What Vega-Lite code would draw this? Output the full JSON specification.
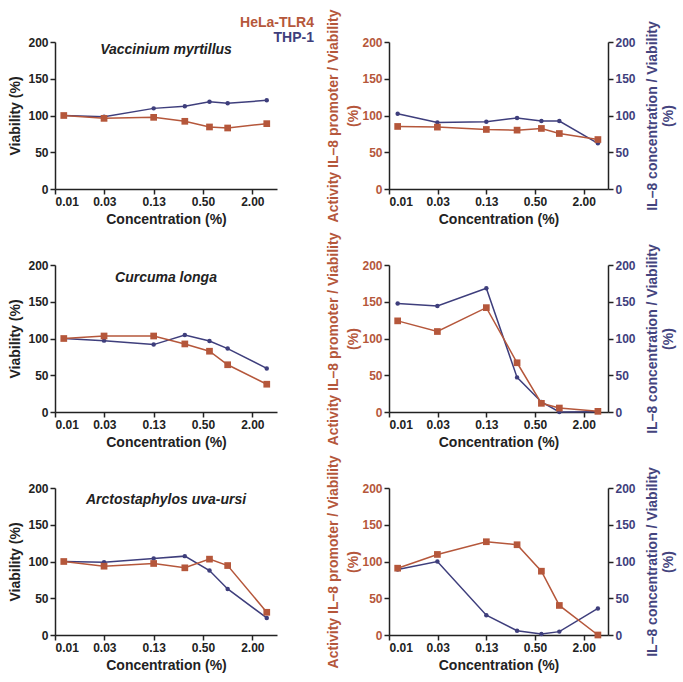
{
  "$schema": "https://vega.github.io/schema/vega-lite/v6.json",
  "padding": {"left": 8, "top": 9, "right": 2, "bottom": 2},
  "background": "white",
  "config": {
    "font": "Liberation Sans",
    "view": {"stroke": null},
    "axis": {
      "labelFont": "Liberation Sans", "labelFontWeight": "bold", "labelFontSize": 12, "labelColor": "#222222",
      "titleFont": "Liberation Sans", "titleFontWeight": "bold", "titleFontSize": 14, "titleColor": "#222222",
      "domainColor": "#222222", "domainWidth": 1.5, "tickColor": "#222222", "tickWidth": 1.5, "tickSize": 5,
      "grid": false, "labelPadding": 2, "titlePadding": 5
    },
    "title": {"font": "Liberation Sans", "fontSize": 14, "fontWeight": "bold", "fontStyle": "italic", "color": "#222222", "anchor": "middle", "frame": "group"}
  },
  "data": {"values": [
    {"species": "Vaccinium myrtillus", "panel": "viability", "series": "THP-1", "conc": 0.01, "value": 100},
    {"species": "Vaccinium myrtillus", "panel": "viability", "series": "THP-1", "conc": 0.031, "value": 98.4},
    {"species": "Vaccinium myrtillus", "panel": "viability", "series": "THP-1", "conc": 0.125, "value": 109.7},
    {"species": "Vaccinium myrtillus", "panel": "viability", "series": "THP-1", "conc": 0.3, "value": 112.5},
    {"species": "Vaccinium myrtillus", "panel": "viability", "series": "THP-1", "conc": 0.6, "value": 118.8},
    {"species": "Vaccinium myrtillus", "panel": "viability", "series": "THP-1", "conc": 1, "value": 116.6},
    {"species": "Vaccinium myrtillus", "panel": "viability", "series": "THP-1", "conc": 3, "value": 120.6},
    {"species": "Vaccinium myrtillus", "panel": "viability", "series": "HeLa-TLR4", "conc": 0.01, "value": 100},
    {"species": "Vaccinium myrtillus", "panel": "viability", "series": "HeLa-TLR4", "conc": 0.031, "value": 96.1},
    {"species": "Vaccinium myrtillus", "panel": "viability", "series": "HeLa-TLR4", "conc": 0.125, "value": 97.5},
    {"species": "Vaccinium myrtillus", "panel": "viability", "series": "HeLa-TLR4", "conc": 0.3, "value": 92.1},
    {"species": "Vaccinium myrtillus", "panel": "viability", "series": "HeLa-TLR4", "conc": 0.6, "value": 84.4},
    {"species": "Vaccinium myrtillus", "panel": "viability", "series": "HeLa-TLR4", "conc": 1, "value": 83},
    {"species": "Vaccinium myrtillus", "panel": "viability", "series": "HeLa-TLR4", "conc": 3, "value": 88.9},
    {"species": "Vaccinium myrtillus", "panel": "il8", "series": "THP-1", "conc": 0.01, "value": 102.5},
    {"species": "Vaccinium myrtillus", "panel": "il8", "series": "THP-1", "conc": 0.031, "value": 90.6},
    {"species": "Vaccinium myrtillus", "panel": "il8", "series": "THP-1", "conc": 0.125, "value": 91.5},
    {"species": "Vaccinium myrtillus", "panel": "il8", "series": "THP-1", "conc": 0.3, "value": 96.6},
    {"species": "Vaccinium myrtillus", "panel": "il8", "series": "THP-1", "conc": 0.6, "value": 92.4},
    {"species": "Vaccinium myrtillus", "panel": "il8", "series": "THP-1", "conc": 1, "value": 92.4},
    {"species": "Vaccinium myrtillus", "panel": "il8", "series": "THP-1", "conc": 3, "value": 62.2},
    {"species": "Vaccinium myrtillus", "panel": "il8", "series": "HeLa-TLR4", "conc": 0.01, "value": 85.1},
    {"species": "Vaccinium myrtillus", "panel": "il8", "series": "HeLa-TLR4", "conc": 0.031, "value": 84.2},
    {"species": "Vaccinium myrtillus", "panel": "il8", "series": "HeLa-TLR4", "conc": 0.125, "value": 81},
    {"species": "Vaccinium myrtillus", "panel": "il8", "series": "HeLa-TLR4", "conc": 0.3, "value": 80.1},
    {"species": "Vaccinium myrtillus", "panel": "il8", "series": "HeLa-TLR4", "conc": 0.6, "value": 82.4},
    {"species": "Vaccinium myrtillus", "panel": "il8", "series": "HeLa-TLR4", "conc": 1, "value": 75.5},
    {"species": "Vaccinium myrtillus", "panel": "il8", "series": "HeLa-TLR4", "conc": 3, "value": 67.3},
    {"species": "Curcuma longa", "panel": "viability", "series": "THP-1", "conc": 0.01, "value": 100},
    {"species": "Curcuma longa", "panel": "viability", "series": "THP-1", "conc": 0.031, "value": 97.1},
    {"species": "Curcuma longa", "panel": "viability", "series": "THP-1", "conc": 0.125, "value": 91.7},
    {"species": "Curcuma longa", "panel": "viability", "series": "THP-1", "conc": 0.3, "value": 104.7},
    {"species": "Curcuma longa", "panel": "viability", "series": "THP-1", "conc": 0.6, "value": 96.6},
    {"species": "Curcuma longa", "panel": "viability", "series": "THP-1", "conc": 1, "value": 86.3},
    {"species": "Curcuma longa", "panel": "viability", "series": "THP-1", "conc": 3, "value": 59.3},
    {"species": "Curcuma longa", "panel": "viability", "series": "HeLa-TLR4", "conc": 0.01, "value": 100},
    {"species": "Curcuma longa", "panel": "viability", "series": "HeLa-TLR4", "conc": 0.031, "value": 103.4},
    {"species": "Curcuma longa", "panel": "viability", "series": "HeLa-TLR4", "conc": 0.125, "value": 103.4},
    {"species": "Curcuma longa", "panel": "viability", "series": "HeLa-TLR4", "conc": 0.3, "value": 92.6},
    {"species": "Curcuma longa", "panel": "viability", "series": "HeLa-TLR4", "conc": 0.6, "value": 82.7},
    {"species": "Curcuma longa", "panel": "viability", "series": "HeLa-TLR4", "conc": 1, "value": 64.3},
    {"species": "Curcuma longa", "panel": "viability", "series": "HeLa-TLR4", "conc": 3, "value": 37.8},
    {"species": "Curcuma longa", "panel": "il8", "series": "THP-1", "conc": 0.01, "value": 147.5},
    {"species": "Curcuma longa", "panel": "il8", "series": "THP-1", "conc": 0.031, "value": 144.3},
    {"species": "Curcuma longa", "panel": "il8", "series": "THP-1", "conc": 0.125, "value": 168.3},
    {"species": "Curcuma longa", "panel": "il8", "series": "THP-1", "conc": 0.3, "value": 47.1},
    {"species": "Curcuma longa", "panel": "il8", "series": "THP-1", "conc": 0.6, "value": 13.6},
    {"species": "Curcuma longa", "panel": "il8", "series": "THP-1", "conc": 1, "value": 0},
    {"species": "Curcuma longa", "panel": "il8", "series": "THP-1", "conc": 3, "value": 0.5},
    {"species": "Curcuma longa", "panel": "il8", "series": "HeLa-TLR4", "conc": 0.01, "value": 124},
    {"species": "Curcuma longa", "panel": "il8", "series": "HeLa-TLR4", "conc": 0.031, "value": 109.5},
    {"species": "Curcuma longa", "panel": "il8", "series": "HeLa-TLR4", "conc": 0.125, "value": 142},
    {"species": "Curcuma longa", "panel": "il8", "series": "HeLa-TLR4", "conc": 0.3, "value": 67},
    {"species": "Curcuma longa", "panel": "il8", "series": "HeLa-TLR4", "conc": 0.6, "value": 11.8},
    {"species": "Curcuma longa", "panel": "il8", "series": "HeLa-TLR4", "conc": 1, "value": 5.4},
    {"species": "Curcuma longa", "panel": "il8", "series": "HeLa-TLR4", "conc": 3, "value": 0.9},
    {"species": "Arctostaphylos uva-ursi", "panel": "viability", "series": "THP-1", "conc": 0.01, "value": 100},
    {"species": "Arctostaphylos uva-ursi", "panel": "viability", "series": "THP-1", "conc": 0.031, "value": 99},
    {"species": "Arctostaphylos uva-ursi", "panel": "viability", "series": "THP-1", "conc": 0.125, "value": 104},
    {"species": "Arctostaphylos uva-ursi", "panel": "viability", "series": "THP-1", "conc": 0.3, "value": 107.3},
    {"species": "Arctostaphylos uva-ursi", "panel": "viability", "series": "THP-1", "conc": 0.6, "value": 87.7},
    {"species": "Arctostaphylos uva-ursi", "panel": "viability", "series": "THP-1", "conc": 1, "value": 62.7},
    {"species": "Arctostaphylos uva-ursi", "panel": "viability", "series": "THP-1", "conc": 3, "value": 23.2},
    {"species": "Arctostaphylos uva-ursi", "panel": "viability", "series": "HeLa-TLR4", "conc": 0.01, "value": 100},
    {"species": "Arctostaphylos uva-ursi", "panel": "viability", "series": "HeLa-TLR4", "conc": 0.031, "value": 93.6},
    {"species": "Arctostaphylos uva-ursi", "panel": "viability", "series": "HeLa-TLR4", "conc": 0.125, "value": 97.3},
    {"species": "Arctostaphylos uva-ursi", "panel": "viability", "series": "HeLa-TLR4", "conc": 0.3, "value": 91.4},
    {"species": "Arctostaphylos uva-ursi", "panel": "viability", "series": "HeLa-TLR4", "conc": 0.6, "value": 103.2},
    {"species": "Arctostaphylos uva-ursi", "panel": "viability", "series": "HeLa-TLR4", "conc": 1, "value": 94.5},
    {"species": "Arctostaphylos uva-ursi", "panel": "viability", "series": "HeLa-TLR4", "conc": 3, "value": 30.9},
    {"species": "Arctostaphylos uva-ursi", "panel": "il8", "series": "THP-1", "conc": 0.01, "value": 89},
    {"species": "Arctostaphylos uva-ursi", "panel": "il8", "series": "THP-1", "conc": 0.031, "value": 100},
    {"species": "Arctostaphylos uva-ursi", "panel": "il8", "series": "THP-1", "conc": 0.125, "value": 26.9},
    {"species": "Arctostaphylos uva-ursi", "panel": "il8", "series": "THP-1", "conc": 0.3, "value": 5.9},
    {"species": "Arctostaphylos uva-ursi", "panel": "il8", "series": "THP-1", "conc": 0.6, "value": 1.4},
    {"species": "Arctostaphylos uva-ursi", "panel": "il8", "series": "THP-1", "conc": 1, "value": 4.6},
    {"species": "Arctostaphylos uva-ursi", "panel": "il8", "series": "THP-1", "conc": 3, "value": 36.1},
    {"species": "Arctostaphylos uva-ursi", "panel": "il8", "series": "HeLa-TLR4", "conc": 0.01, "value": 90.9},
    {"species": "Arctostaphylos uva-ursi", "panel": "il8", "series": "HeLa-TLR4", "conc": 0.031, "value": 109.6},
    {"species": "Arctostaphylos uva-ursi", "panel": "il8", "series": "HeLa-TLR4", "conc": 0.125, "value": 126.9},
    {"species": "Arctostaphylos uva-ursi", "panel": "il8", "series": "HeLa-TLR4", "conc": 0.3, "value": 122.8},
    {"species": "Arctostaphylos uva-ursi", "panel": "il8", "series": "HeLa-TLR4", "conc": 0.6, "value": 86.8},
    {"species": "Arctostaphylos uva-ursi", "panel": "il8", "series": "HeLa-TLR4", "conc": 1, "value": 40.2},
    {"species": "Arctostaphylos uva-ursi", "panel": "il8", "series": "HeLa-TLR4", "conc": 3, "value": 0}
  ]},
  "columns": 2,
  "spacing": {"row": 76, "column": 112},
  "bounds": "flush",
  "resolve": {"scale": {"color": "independent"}, "legend": {"color": "independent"}},
  "concat": [
    {
      "width": 222, "height": 147,
      "title": {"text": "Vaccinium myrtillus", "dy": 45, "frame": "group"},
      "transform": [{"filter": "datum.species === 'Vaccinium myrtillus' && datum.panel === 'viability'"}],
      "encoding": {
        "x": {"field": "conc", "type": "quantitative", "scale": {"type": "log", "base": 2, "domain": [0.0078125, 4], "nice": false}, "axis": {"values": [0.0078125, 0.03125, 0.125, 0.5, 2], "format": ".2f", "title": "Concentration (%)"}},
        "y": {"field": "value", "type": "quantitative", "scale": {"domain": [0, 200], "nice": false}, "axis": {"values": [0, 50, 100, 150, 200], "title": "Viability (%)"}},
        "color": {"field": "series", "type": "nominal", "scale": {"domain": ["HeLa-TLR4", "THP-1"], "range": ["#b5573b", "#3e3e7c"]},
          "legend": {"orient": "none", "legendX": 245, "legendY": -26, "direction": "vertical", "title": null, "symbolOpacity": 0, "symbolSize": 0, "symbolStrokeWidth": 0, "labelOffset": 0, "labelFont": "Liberation Sans", "labelFontWeight": "bold", "labelFontSize": 14, "labelAlign": "right", "rowPadding": 1,
            "encode": {"labels": {"update": {"fill": {"signal": "datum.value === 'THP-1' ? '#3e3e7c' : '#b5573b'"}}}}}}
      },
      "layer": [
        {"transform": [{"filter": "datum.series === 'THP-1'"}], "mark": {"type": "line", "strokeWidth": 1.5, "point": {"filled": true, "size": 20, "shape": "circle"}}},
        {"transform": [{"filter": "datum.series === 'HeLa-TLR4'"}], "mark": {"type": "line", "strokeWidth": 1.5, "point": {"filled": true, "size": 45, "shape": "square"}}}
      ]
    },
    {
      "width": 219, "height": 147,
      "transform": [{"filter": "datum.species === 'Vaccinium myrtillus' && datum.panel === 'il8'"}],
      "encoding": {
        "x": {"field": "conc", "type": "quantitative", "scale": {"type": "log", "base": 2, "domain": [0.0078125, 4], "nice": false}, "axis": {"values": [0.0078125, 0.03125, 0.125, 0.5, 2], "format": ".2f", "title": "Concentration (%)"}}
      },
      "layer": [
        {"transform": [{"filter": "datum.series === 'THP-1'"}], "mark": {"type": "line", "color": "#3e3e7c", "strokeWidth": 1.5, "point": {"filled": true, "size": 20, "shape": "circle", "color": "#3e3e7c"}},
          "encoding": {"y": {"field": "value", "type": "quantitative", "scale": {"domain": [0, 200], "nice": false}, "axis": {"orient": "right", "values": [0, 50, 100, 150, 200], "title": ["IL–8 concentration / Viability", "(%)"], "titleColor": "#44447e", "labelColor": "#3e3e7c", "titleAngle": 270, "titleBaseline": "top", "titleLineHeight": 16, "titlePadding": -6}}}},
        {"transform": [{"filter": "datum.series === 'HeLa-TLR4'"}], "mark": {"type": "line", "color": "#b5573b", "strokeWidth": 1.5, "point": {"filled": true, "size": 45, "shape": "square", "color": "#b5573b"}},
          "encoding": {"y": {"field": "value", "type": "quantitative", "scale": {"domain": [0, 200], "nice": false}, "axis": {"orient": "left", "values": [0, 50, 100, 150, 200], "title": ["Activity IL–8 promoter / Viability", "(%)"], "titleColor": "#b5573b", "labelColor": "#b5573b", "titleLineHeight": 20, "titlePadding": 1}}}}
      ],
      "resolve": {"scale": {"y": "independent"}}
    },
    {
      "width": 222, "height": 147,
      "title": {"text": "Curcuma longa", "dy": 30, "frame": "group"},
      "transform": [{"filter": "datum.species === 'Curcuma longa' && datum.panel === 'viability'"}],
      "encoding": {
        "x": {"field": "conc", "type": "quantitative", "scale": {"type": "log", "base": 2, "domain": [0.0078125, 4], "nice": false}, "axis": {"values": [0.0078125, 0.03125, 0.125, 0.5, 2], "format": ".2f", "title": "Concentration (%)"}},
        "y": {"field": "value", "type": "quantitative", "scale": {"domain": [0, 200], "nice": false}, "axis": {"values": [0, 50, 100, 150, 200], "title": "Viability (%)"}},
        "color": {"field": "series", "type": "nominal", "scale": {"domain": ["HeLa-TLR4", "THP-1"], "range": ["#b5573b", "#3e3e7c"]}, "legend": null}
      },
      "layer": [
        {"transform": [{"filter": "datum.series === 'THP-1'"}], "mark": {"type": "line", "strokeWidth": 1.5, "point": {"filled": true, "size": 20, "shape": "circle"}}},
        {"transform": [{"filter": "datum.series === 'HeLa-TLR4'"}], "mark": {"type": "line", "strokeWidth": 1.5, "point": {"filled": true, "size": 45, "shape": "square"}}}
      ]
    },
    {
      "width": 219, "height": 147,
      "transform": [{"filter": "datum.species === 'Curcuma longa' && datum.panel === 'il8'"}],
      "encoding": {
        "x": {"field": "conc", "type": "quantitative", "scale": {"type": "log", "base": 2, "domain": [0.0078125, 4], "nice": false}, "axis": {"values": [0.0078125, 0.03125, 0.125, 0.5, 2], "format": ".2f", "title": "Concentration (%)"}}
      },
      "layer": [
        {"transform": [{"filter": "datum.series === 'THP-1'"}], "mark": {"type": "line", "color": "#3e3e7c", "strokeWidth": 1.5, "point": {"filled": true, "size": 20, "shape": "circle", "color": "#3e3e7c"}},
          "encoding": {"y": {"field": "value", "type": "quantitative", "scale": {"domain": [0, 200], "nice": false}, "axis": {"orient": "right", "values": [0, 50, 100, 150, 200], "title": ["IL–8 concentration / Viability", "(%)"], "titleColor": "#44447e", "labelColor": "#3e3e7c", "titleAngle": 270, "titleBaseline": "top", "titleLineHeight": 16, "titlePadding": -6}}}},
        {"transform": [{"filter": "datum.series === 'HeLa-TLR4'"}], "mark": {"type": "line", "color": "#b5573b", "strokeWidth": 1.5, "point": {"filled": true, "size": 45, "shape": "square", "color": "#b5573b"}},
          "encoding": {"y": {"field": "value", "type": "quantitative", "scale": {"domain": [0, 200], "nice": false}, "axis": {"orient": "left", "values": [0, 50, 100, 150, 200], "title": ["Activity IL–8 promoter / Viability", "(%)"], "titleColor": "#b5573b", "labelColor": "#b5573b", "titleLineHeight": 20, "titlePadding": 1}}}}
      ],
      "resolve": {"scale": {"y": "independent"}}
    },
    {
      "width": 222, "height": 147,
      "title": {"text": "Arctostaphylos uva-ursi", "dy": 29, "frame": "group"},
      "transform": [{"filter": "datum.species === 'Arctostaphylos uva-ursi' && datum.panel === 'viability'"}],
      "encoding": {
        "x": {"field": "conc", "type": "quantitative", "scale": {"type": "log", "base": 2, "domain": [0.0078125, 4], "nice": false}, "axis": {"values": [0.0078125, 0.03125, 0.125, 0.5, 2], "format": ".2f", "title": "Concentration (%)"}},
        "y": {"field": "value", "type": "quantitative", "scale": {"domain": [0, 200], "nice": false}, "axis": {"values": [0, 50, 100, 150, 200], "title": "Viability (%)"}},
        "color": {"field": "series", "type": "nominal", "scale": {"domain": ["HeLa-TLR4", "THP-1"], "range": ["#b5573b", "#3e3e7c"]}, "legend": null}
      },
      "layer": [
        {"transform": [{"filter": "datum.series === 'THP-1'"}], "mark": {"type": "line", "strokeWidth": 1.5, "point": {"filled": true, "size": 20, "shape": "circle"}}},
        {"transform": [{"filter": "datum.series === 'HeLa-TLR4'"}], "mark": {"type": "line", "strokeWidth": 1.5, "point": {"filled": true, "size": 45, "shape": "square"}}}
      ]
    },
    {
      "width": 219, "height": 147,
      "transform": [{"filter": "datum.species === 'Arctostaphylos uva-ursi' && datum.panel === 'il8'"}],
      "encoding": {
        "x": {"field": "conc", "type": "quantitative", "scale": {"type": "log", "base": 2, "domain": [0.0078125, 4], "nice": false}, "axis": {"values": [0.0078125, 0.03125, 0.125, 0.5, 2], "format": ".2f", "title": "Concentration (%)"}}
      },
      "layer": [
        {"transform": [{"filter": "datum.series === 'THP-1'"}], "mark": {"type": "line", "color": "#3e3e7c", "strokeWidth": 1.5, "point": {"filled": true, "size": 20, "shape": "circle", "color": "#3e3e7c"}},
          "encoding": {"y": {"field": "value", "type": "quantitative", "scale": {"domain": [0, 200], "nice": false}, "axis": {"orient": "right", "values": [0, 50, 100, 150, 200], "title": ["IL–8 concentration / Viability", "(%)"], "titleColor": "#44447e", "labelColor": "#3e3e7c", "titleAngle": 270, "titleBaseline": "top", "titleLineHeight": 16, "titlePadding": -6}}}},
        {"transform": [{"filter": "datum.series === 'HeLa-TLR4'"}], "mark": {"type": "line", "color": "#b5573b", "strokeWidth": 1.5, "point": {"filled": true, "size": 45, "shape": "square", "color": "#b5573b"}},
          "encoding": {"y": {"field": "value", "type": "quantitative", "scale": {"domain": [0, 200], "nice": false}, "axis": {"orient": "left", "values": [0, 50, 100, 150, 200], "title": ["Activity IL–8 promoter / Viability", "(%)"], "titleColor": "#b5573b", "labelColor": "#b5573b", "titleLineHeight": 20, "titlePadding": 1}}}}
      ],
      "resolve": {"scale": {"y": "independent"}}
    }
  ]
}
